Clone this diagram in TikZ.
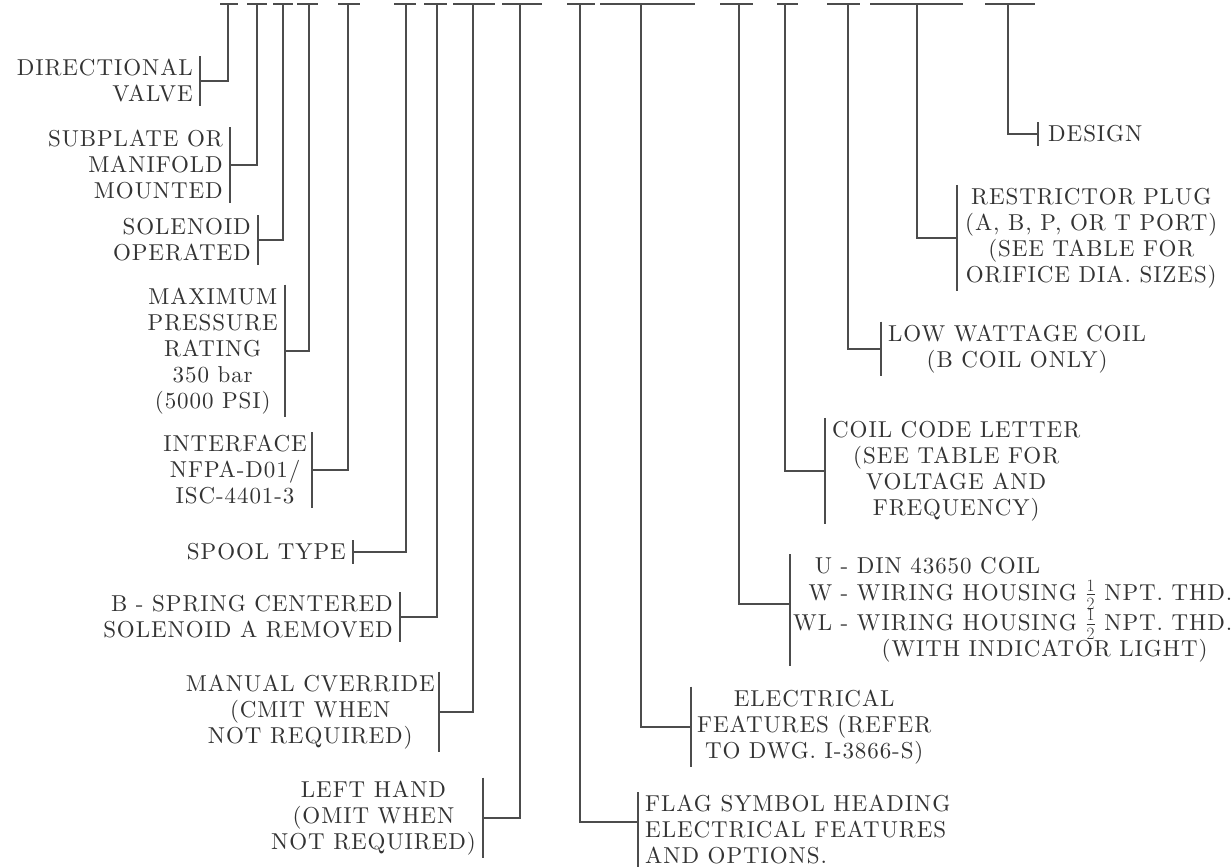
\documentclass[tikz,border=0pt]{standalone}
\usepackage{fontspec}
\usepackage{amsmath}
\usepackage{tikz}
\usetikzlibrary{positioning, calc}

% Latin Modern, loaded through fontspec so that it can be letterspaced
\setmainfont{lmroman10}[Extension=.otf, UprightFont=*-regular,
    BoldFont=*-bold, ItalicFont=*-italic, BoldItalicFont=*-bolditalic]

% small stacked one-half, as in the printed code sheet
\newcommand{\halfmark}{$\genfrac{}{}{}{1}{1}{2}$}

\begin{document}
\begin{tikzpicture}[
        x=1pt, y=-1pt,
        % Style for the code lines (bars, stems and brackets)
        codeline/.style={
            line width=1.2pt,
            draw=black!70
        },
        % Style for the text of every label
        codelabel/.style={
            inner xsep=7pt,
            inner ysep=3pt,
            text=black!80,
            font=\fontsize{23}{26}\selectfont\addfontfeatures{LetterSpace=4}
        },
        % Labels hanging left or right of their bracket
        leftlabel/.style={codelabel, anchor=east},
        rightlabel/.style={codelabel, anchor=west}
    ]

    \useasboundingbox (0,0) rectangle (1231,867);

    % ==========================================
    % TOP BARS OF THE MODEL CODE
    % ==========================================
    \foreach \n/\l/\s/\r in {1/220/228/238, 2/247/257/267, 3/273/283/293,
        4/297/309/318, 5/338/348/360, 6/394/406/416, 7/424/437/447,
        8/453/473/495, 9/502/520/542, 10/567/580/595, 11/600/641/695,
        12/720/739/753, 13/777/785/798, 14/827/848/860, 15/870/917/963,
        16/985/1008/1035} {
        \coordinate (t\n) at (\s,4);
        \draw[codeline] (\l,4) -- (\r,4);
    }

    % ==========================================
    % LABELS ON THE LEFT
    % ==========================================
    \node[leftlabel, align=right] (dirvalve) at (200,81) {DIRECTIONAL\\VALVE};
    \node[leftlabel, align=right] (subplate) at (230,165) {SUBPLATE OR\\MANIFOLD\\MOUNTED};
    \node[leftlabel, align=right] (solenoid) at (258,240) {SOLENOID\\OPERATED};
    \node[leftlabel, align=center] (maxpress) at (285,351) {MAXIMUM\\PRESSURE\\RATING\\350 bar\\(5000 PSI)};
    \node[leftlabel, align=center, inner xsep=5pt] (interface) at (312,470) {INTERFACE\\NFPA-D01/\\ISC-4401-3};
    \node[leftlabel] (spool) at (353,552) {SPOOL TYPE};
    \node[leftlabel, align=right] (bspring) at (400,617) {B - SPRING CENTERED\\SOLENOID A REMOVED};
    \node[leftlabel, align=center, inner xsep=4pt] (override) at (439,712) {MANUAL CVERRIDE\\(CMIT WHEN\\NOT REQUIRED)};
    \node[leftlabel, align=center] (lefthand) at (483,818) {LEFT HAND\\(OMIT WHEN\\NOT REQUIRED)};

    % ==========================================
    % LABELS ON THE RIGHT
    % ==========================================
    \node[rightlabel, align=left] (flag) at (638,830) {FLAG SYMBOL HEADING\\ELECTRICAL FEATURES\\AND OPTIONS.};
    \node[rightlabel, align=center, inner xsep=6pt] (elec) at (691,727) {ELECTRICAL\\FEATURES (REFER\\TO DWG. I-3866-S)};
    \node[rightlabel, inner xsep=3pt] (wiring) at (790,610) {\fontsize{23}{21}\selectfont
        \begin{tabular}{@{}r@{ - }l@{}}
            U & DIN 43650 COIL\\
            W & WIRING HOUSING \halfmark{} NPT. THD.\\
            WL & WIRING HOUSING \halfmark{} NPT. THD.\\
            \multicolumn{1}{c}{} & \multicolumn{1}{c}{(WITH INDICATOR LIGHT)}
        \end{tabular}};
    \node[rightlabel, align=center] (coilcode) at (825,471) {COIL CODE LETTER\\(SEE TABLE FOR\\VOLTAGE AND\\FREQUENCY)};
    \node[rightlabel, align=center] (lowwatt) at (881,349) {LOW WATTAGE COIL\\(B COIL ONLY)};
    \node[rightlabel, align=center, inner xsep=8pt] (restrictor) at (957,238) {RESTRICTOR PLUG\\(A, B, P, OR T PORT)\\(SEE TABLE FOR\\ORIFICE DIA. SIZES)};
    \node[rightlabel, inner xsep=10pt] (design) at (1038,134) {DESIGN};

    % ==========================================
    % STEMS AND BRACKETS
    % ==========================================
    \draw[codeline] (t1) |- (dirvalve.east) (dirvalve.north east) -- (dirvalve.south east);
    \draw[codeline] (t2) |- (subplate.east) (subplate.north east) -- (subplate.south east);
    \draw[codeline] (t3) |- (solenoid.east) (solenoid.north east) -- (solenoid.south east);
    \draw[codeline] (t4) |- (maxpress.east) (maxpress.north east) -- (maxpress.south east);
    \draw[codeline] (t5) |- (interface.east) (interface.north east) -- (interface.south east);
    \draw[codeline] (t6) |- (spool.east) (spool.north east) -- (spool.south east);
    \draw[codeline] (t7) |- (bspring.east) (bspring.north east) -- (bspring.south east);
    \draw[codeline] (t8) |- (override.east) (override.north east) -- (override.south east);
    \draw[codeline] (t9) |- (lefthand.east) (lefthand.north east) -- (lefthand.south east);

    \draw[codeline] (t10) |- ([yshift=8pt]flag.west) (flag.north west) -- (flag.south west);
    \draw[codeline] (t11) |- (elec.west) (elec.north west) -- (elec.south west);
    \draw[codeline] (t12) |- ([yshift=6pt]wiring.west) (wiring.north west) -- (wiring.south west);
    \draw[codeline] (t13) |- (coilcode.west) (coilcode.north west) -- (coilcode.south west);
    \draw[codeline] (t14) |- (lowwatt.west) (lowwatt.north west) -- (lowwatt.south west);
    \draw[codeline] (t15) |- (restrictor.west) (restrictor.north west) -- (restrictor.south west);
    \draw[codeline] (t16) |- (design.west) (design.north west) -- (design.south west);

\end{tikzpicture}
\end{document}
